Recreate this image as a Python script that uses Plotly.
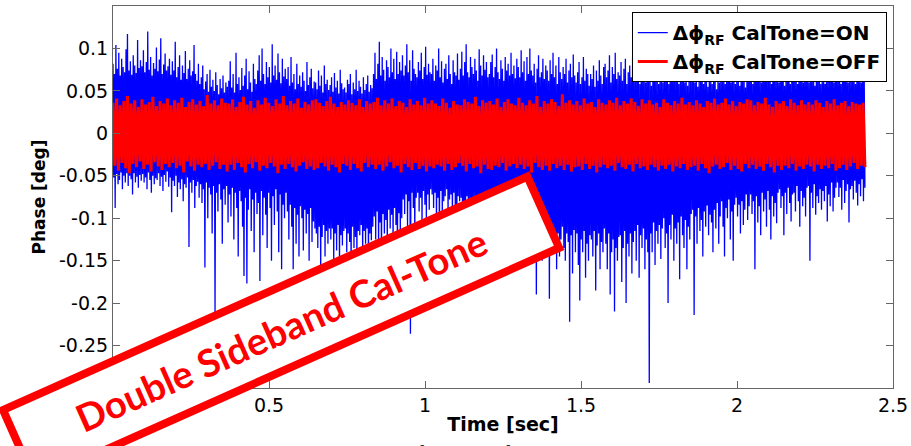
import numpy as np
import plotly.graph_objects as go

# Phase samples, in milli-degrees.
# The ON trace is listed as alternating extremes (upper / lower),
# ten samples per ~0.046 s block.
on_upper_mdeg = [
    82, 70, 104, 76, 95, 68, 88, 78, 72, 99,
    117, 74, 85, 69, 92, 80, 71, 110, 77, 86,
    79, 98, 72, 84, 120, 75, 90, 68, 83, 76,
    101, 73, 87, 112, 70, 81, 94, 74, 79, 88,
    69, 85, 74, 108, 66, 78, 92, 63, 80, 71,
    97, 64, 76, 86, 68, 73, 104, 70, 62, 82,
    58, 66, 80, 52, 61, 70, 49, 75, 55, 63,
    50, 72, 57, 46, 64, 53, 68, 48, 60, 55,
    62, 85, 54, 70, 48, 95, 58, 66, 51, 77,
    56, 68, 88, 52, 73, 60, 49, 82, 64, 58,
    74, 92, 62, 100, 70, 58, 84, 66, 78, 60,
    105, 68, 80, 63, 94, 72, 59, 88, 67, 76,
    64, 78, 56, 90, 60, 70, 52, 82, 58, 68,
    55, 72, 62, 50, 84, 57, 66, 76, 53, 61,
    60, 52, 74, 56, 68, 48, 80, 58, 63, 51,
    57, 66, 49, 71, 54, 62, 47, 75, 59, 52,
    54, 48, 63, 58, 70, 46, 60, 52, 75, 50,
    62, 55, 47, 66, 51, 58, 68, 49, 57, 53,
    70, 95, 64, 82, 108, 68, 90, 75, 62, 86,
    78, 66, 100, 72, 88, 64, 96, 70, 84, 74,
    92, 68, 80, 105, 72, 86, 62, 98, 76, 70,
    66, 84, 74, 95, 64, 78, 102, 69, 82, 72,
    70, 88, 62, 80, 74, 100, 66, 85, 60, 76,
    82, 64, 92, 70, 58, 86, 72, 68, 94, 63,
    76, 96, 68, 84, 105, 72, 66, 90, 78, 70,
    88, 74, 62, 99, 80, 68, 92, 75, 84, 66,
    70, 84, 93, 66, 78, 100, 72, 64, 86, 76,
    62, 90, 74, 82, 68, 95, 70, 80, 65, 88,
    78, 66, 98, 72, 85, 62, 90, 70, 100, 74,
    68, 82, 60, 76, 92, 66, 72, 88, 64, 80,
    74, 62, 86, 70, 95, 66, 80, 58, 90, 72,
    64, 78, 70, 88, 60, 74, 82, 66, 93, 68,
    60, 72, 84, 58, 66, 90, 62, 76, 70, 56,
    70, 64, 80, 55, 74, 62, 86, 68, 58, 78,
    82, 66, 74, 92, 60, 78, 70, 95, 64, 72,
    68, 84, 62, 76, 88, 58, 72, 80, 66, 90,
    74, 62, 82, 68, 58, 86, 66, 76, 60, 80,
    64, 78, 56, 70, 84, 62, 68, 58, 74, 66,
    60, 72, 66, 82, 58, 76, 64, 88, 62, 70,
    78, 58, 70, 64, 86, 60, 74, 56, 68, 62,
    66, 76, 60, 80, 55, 70, 62, 84, 58, 72,
    62, 55, 74, 66, 58, 78, 64, 52, 70, 60,
    70, 62, 82, 58, 74, 66, 88, 60, 76, 64,
    58, 72, 64, 56, 80, 62, 70, 54, 68, 75,
    74, 64, 58, 80, 68, 86, 62, 72, 60, 78,
    66, 84, 70, 62, 76, 58, 90, 68, 64, 72,
    60, 72, 66, 78, 56, 70, 62, 82, 58, 68,
    76, 62, 70, 58, 84, 64, 72, 60, 74, 66,
    68, 60, 78, 64, 72, 56, 82, 62, 70, 58,
    64, 74, 58, 80, 62, 70, 66, 76, 60, 72,
    70, 62, 76, 58, 68, 82, 64, 72, 60, 66,
    62, 72, 66, 58, 76, 64, 70, 60, 74, 68,
]
on_lower_mdeg = [
    -52, -88, -48, -60, -55, -46, -66, -50, -58, -47,
    -62, -50, -54, -72, -47, -58, -51, -64, -49, -56,
    -48, -58, -52, -66, -46, -55, -70, -50, -60, -53,
    -55, -47, -62, -51, -68, -49, -57, -45, -63, -52,
    -93, -56, -62, -50, -75, -58, -66, -54, -80, -60,
    -64, -52, -134, -58, -70, -55, -88, -62, -57, -76,
    -60, -82, -66, -158, -58, -100, -64, -72, -118, -62,
    -212, -70, -92, -60, -78, -130, -66, -84, -62, -105,
    -72, -98, -64, -125, -70, -88, -145, -68, -80, -110,
    -168, -76, -177, -90, -66, -115, -78, -140, -70, -95,
    -82, -174, -68, -120, -76, -96, -135, -70, -88, -150,
    -74, -108, -66, -92, -140, -72, -160, -84, -100, -70,
    -92, -125, -84, -110, -160, -88, -130, -96, -145, -86,
    -100, -138, -90, -118, -95, -150, -88, -128, -104, -112,
    -118, -135, -110, -165, -122, -108, -145, -115, -130, -112,
    -125, -112, -150, -118, -138, -108, -158, -120, -132, -115,
    -112, -140, -118, -128, -160, -110, -135, -122, -148, -115,
    -120, -108, -145, -115, -130, -112, -155, -118, -126, -110,
    -98, -125, -92, -140, -105, -160, -95, -118, -102, -132,
    -90, -112, -96, -130, -88, -108, -145, -94, -120, -100,
    -78, -95, -72, -110, -80, -236, -70, -88, -122, -76,
    -70, -92, -76, -108, -68, -84, -100, -72, -90, -66,
    -72, -88, -70, -110, -76, -125, -68, -94, -80, -74,
    -66, -96, -78, -72, -104, -70, -86, -118, -74, -80,
    -76, -100, -82, -115, -74, -90, -78, -106, -84, -80,
    -86, -112, -78, -98, -128, -82, -94, -108, -80, -90,
    -84, -105, -90, -120, -86, -98, -112, -82, -96, -88,
    -92, -118, -86, -104, -135, -90, -100, -115, -88, -108,
    -95, -130, -100, -115, -140, -98, -120, -105, -125, -102,
    -104, -118, -190, -110, -135, -108, -150, -112, -128, -106,
    -115, -195, -120, -140, -112, -130, -160, -118, -145, -125,
    -110, -135, -150, -118, -128, -222, -120, -165, -114, -140,
    -118, -155, -197, -125, -140, -115, -170, -130, -150, -120,
    -125, -145, -115, -185, -132, -118, -160, -128, -140, -112,
    -130, -160, -118, -190, -140, -125, -210, -135, -150, -122,
    -120, -175, -135, -115, -200, -130, -145, -118, -165, -128,
    -115, -150, -108, -170, -120, -135, -112, -160, -125, -140,
    -294, -118, -140, -105, -155, -115, -130, -108, -148, -112,
    -100, -135, -118, -200, -108, -125, -96, -150, -112, -130,
    -105, -172, -98, -120, -135, -102, -160, -110, -125, -95,
    -90, -214, -98, -130, -88, -115, -102, -145, -92, -110,
    -85, -120, -96, -105, -140, -90, -112, -82, -130, -98,
    -80, -110, -145, -88, -100, -78, -125, -92, -150, -84,
    -76, -98, -84, -118, -80, -108, -90, -72, -102, -86,
    -72, -95, -80, -160, -74, -105, -86, -120, -70, -92,
    -78, -110, -68, -90, -125, -74, -98, -82, -106, -70,
    -66, -88, -74, -120, -70, -95, -64, -82, -104, -72,
    -70, -92, -62, -80, -110, -68, -86, -76, -98, -64,
    -62, -150, -70, -88, -60, -96, -74, -82, -66, -90,
    -68, -80, -62, -104, -72, -86, -58, -92, -76, -64,
    -58, -75, -64, -90, -55, -82, -68, -60, -105, -66,
    -62, -78, -56, -70, -85, -60, -74, -54, -80, -64,
]
# OFF trace, eight samples per ~0.093 s block
off_upper_mdeg = [
    36, 41, 33, 38, 44, 35, 39, 31,
    40, 34, 37, 43, 32, 38, 35, 41,
    33, 39, 36, 42, 31, 37, 40, 34,
    38, 32, 45, 35, 39, 33, 41, 36,
    35, 40, 31, 37, 43, 34, 38, 30,
    39, 34, 42, 36, 32, 40, 35, 44,
    33, 38, 35, 41, 30, 37, 34, 39,
    40, 36, 32, 38, 43, 35, 31, 37,
    34, 39, 36, 33, 40, 31, 38, 35,
    37, 42, 33, 39, 35, 41, 32, 38,
    36, 31, 40, 34, 38, 33, 42, 35,
    39, 35, 32, 41, 36, 30, 38, 34,
    33, 40, 37, 35, 43, 32, 39, 36,
    38, 34, 41, 31, 37, 40, 35, 33,
    42, 36, 33, 39, 35, 44, 31, 38,
    35, 40, 37, 32, 46, 36, 39, 34,
    38, 33, 41, 35, 37, 31, 40, 36,
    34, 39, 36, 42, 33, 38, 35, 41,
    37, 32, 40, 35, 39, 34, 36, 31,
    40, 36, 33, 38, 35, 42, 34, 37,
    33, 39, 35, 31, 38, 36, 41, 34,
    36, 41, 34, 38, 32, 37, 35, 40,
    39, 33, 37, 35, 42, 34, 31, 38,
    35, 38, 32, 40, 36, 33, 39, 34,
    37, 34, 39, 36, 31, 38, 35, 40,
    33, 36, 38, 32, 37, 35, 34, 36,
]
off_lower_mdeg = [
    -38, -44, -35, -41, -47, -36, -40, -33,
    -42, -37, -45, -34, -39, -43, -36, -40,
    -35, -41, -38, -46, -33, -39, -44, -37,
    -40, -36, -43, -38, -34, -42, -37, -45,
    -37, -43, -35, -40, -46, -36, -41, -34,
    -44, -38, -41, -35, -39, -47, -37, -42,
    -36, -40, -45, -38, -34, -42, -39, -43,
    -41, -35, -39, -44, -37, -40, -46, -36,
    -38, -43, -36, -41, -45, -35, -40, -37,
    -42, -37, -44, -39, -34, -41, -38, -46,
    -36, -40, -43, -35, -42, -38, -45, -39,
    -41, -37, -39, -44, -36, -43, -40, -35,
    -38, -45, -36, -41, -39, -47, -37, -42,
    -43, -38, -40, -35, -44, -39, -36, -41,
    -37, -42, -39, -46, -35, -40, -43, -38,
    -44, -36, -41, -38, -43, -37, -45, -40,
    -39, -43, -36, -42, -38, -46, -40, -37,
    -41, -38, -44, -35, -40, -42, -37, -45,
    -36, -41, -39, -43, -37, -40, -44, -38,
    -42, -37, -45, -39, -41, -36, -43, -40,
    -38, -44, -36, -41, -47, -39, -37, -42,
    -40, -35, -43, -38, -42, -45, -36, -41,
    -37, -42, -39, -44, -36, -40, -46, -38,
    -43, -38, -41, -36, -44, -39, -42, -37,
    -39, -45, -37, -42, -38, -41, -36, -44,
    -41, -37, -43, -39, -35, -42, -38, -40,
]

record_length = 2.41  # seconds

x_ticks = [0, 0.5, 1, 1.5, 2, 2.5]
x_tick_labels = ['0', '0.5', '1', '1.5', '2', '2.5']
y_ticks = [-0.3, -0.25, -0.2, -0.15, -0.1, -0.05, 0, 0.05, 0.1]
y_tick_labels = ['-0.3', '-0.25', '-0.2', '-0.15', '-0.1', '-0.05', '0', '0.05', '0.1']


def interleave(upper, lower):
    # zig-zag between the read extremes, converted to degrees
    return np.column_stack((upper, lower)).ravel() / 1000.0


on_phase = interleave(on_upper_mdeg, on_lower_mdeg)
off_phase = interleave(off_upper_mdeg, off_lower_mdeg)
on_time = np.linspace(0, record_length, len(on_phase))
off_time = np.linspace(0, record_length, len(off_phase))

fig = go.Figure()
fig.add_trace(go.Scatter(
    x=on_time, y=on_phase, mode='lines',
    line=dict(color='rgb(0,0,255)', width=1.3),
    name='<b>Δϕ<sub>RF</sub> CalTone=ON</b>',
))
fig.add_trace(go.Scatter(
    x=off_time, y=off_phase, mode='lines',
    line=dict(color='rgb(255,0,0)', width=3.0),
    name='<b>Δϕ<sub>RF</sub> CalTone=OFF</b>',
))

axis_style = dict(
    showline=True, linecolor='#666', linewidth=1, mirror='ticks',
    ticks='inside', ticklen=7, tickcolor='#666',
    showgrid=False, zeroline=False, automargin=False,
    tickfont=dict(family='DejaVu Sans', size=19, color='black'),
)

fig.update_layout(
    template='none',
    width=911, height=446,
    margin=dict(l=113, r=18, t=6, b=58),
    paper_bgcolor='white', plot_bgcolor='white',
    font=dict(family='DejaVu Sans', size=19, color='black'),
    xaxis=dict(
        axis_style, range=[0, 2.5], tickvals=x_ticks, ticktext=x_tick_labels,
        title=dict(text='<b>Time [sec]</b>', standoff=2,
                   font=dict(family='DejaVu Sans', size=19)),
    ),
    yaxis=dict(
        axis_style, range=[-0.3, 0.15], tickvals=y_ticks, ticktext=y_tick_labels,
        title=dict(text='<b>Phase [deg]</b>', standoff=9,
                   font=dict(family='DejaVu Sans', size=17)),
    ),
    showlegend=True,
    legend=dict(
        x=0.992, y=0.984, xanchor='right', yanchor='top',
        bgcolor='white', bordercolor='black', borderwidth=1,
        font=dict(family='DejaVu Sans', size=20, color='black'),
        itemwidth=30, tracegroupgap=0,
    ),
)

# stamp across the lower-left corner
fig.add_annotation(
    xref='paper', yref='paper', x=0.2154, y=0.155,
    xanchor='center', yanchor='middle', showarrow=False,
    text='<b>Double Sideband Cal-Tone</b>', textangle=-24,
    font=dict(family='Lato', size=38, color='rgb(255,0,0)'),
    bgcolor='white', bordercolor='rgb(255,0,0)', borderwidth=8, borderpad=0,
    width=566, height=70,
)
# caption of the slide below, mostly cut off
fig.add_annotation(
    xref='paper', yref='paper', x=0.49, y=-0.137,
    xanchor='center', yanchor='top', showarrow=False,
    text='<b>Phase Noise PSD</b>',
    font=dict(family='DejaVu Sans', size=19, color='#333'),
)

fig.write_html(
    "out.html",
    config={'displayModeBar': False},
    post_script="document.body.style.margin = '0px';",
)
